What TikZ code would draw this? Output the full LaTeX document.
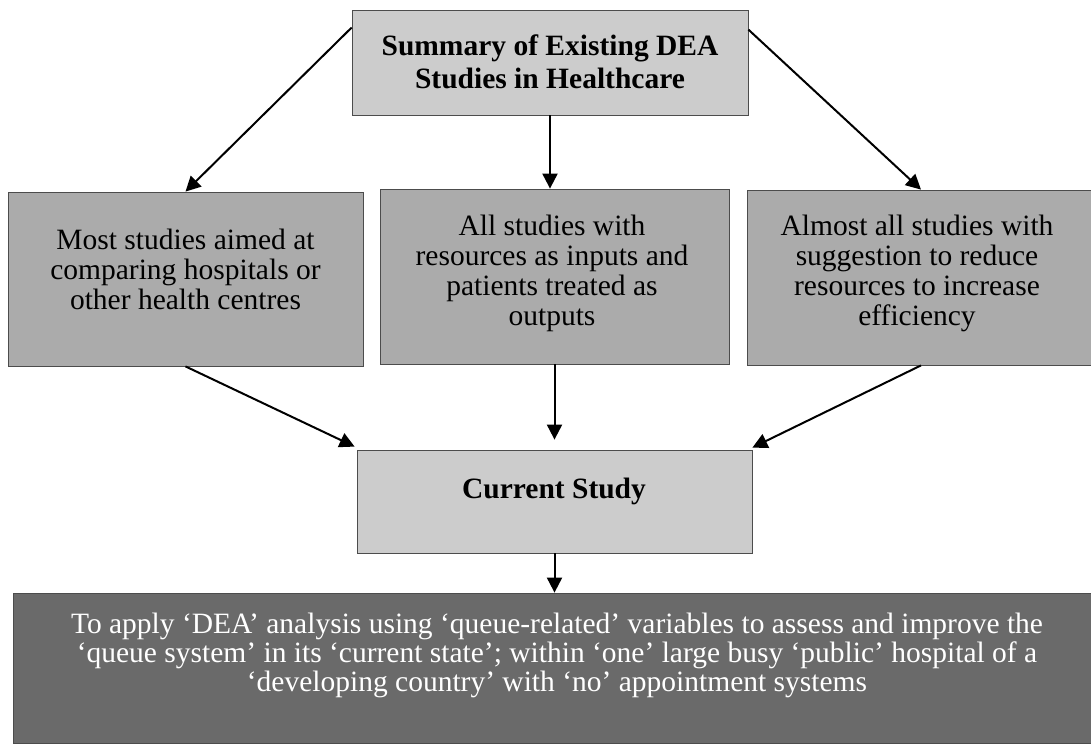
\documentclass[tikz,border=0pt]{standalone}
\usepackage{fontspec}
\setmainfont{Liberation Serif}
\usetikzlibrary{arrows.meta,calc}

\definecolor{lightbox}{HTML}{CCCCCC}
\definecolor{midbox}{HTML}{ABABAB}
\definecolor{darkbox}{HTML}{6A6A6A}

\tikzset{
  boxbase/.style={draw=black!70, line width=0.8pt, inner sep=0pt},
  headbox/.style={boxbase, fill=lightbox},
  findbox/.style={boxbase, fill=midbox},
  aimbox/.style={boxbase, fill=darkbox},
  boxtext/.style={align=center, font=\fontsize{29.5}{30}\selectfont, inner sep=0pt},
  flow/.style={line width=2pt, -{Triangle[length=15pt,width=15pt]}}
}

\begin{document}
\begin{tikzpicture}[x=1pt,y=-1pt]
\useasboundingbox (0,0) rectangle (1091,746);

% boxes
\node[headbox, minimum width=396pt, minimum height=105pt] (top) at (550,62.5) {};
\node[findbox, minimum width=355pt, minimum height=174pt] (left) at (185.5,279) {};
\node[findbox, minimum width=349pt, minimum height=175pt] (mid) at (554.5,276.5) {};
\node[findbox, minimum width=348pt, minimum height=175pt] (right) at (921,277.5) {};
\node[headbox, minimum width=395pt, minimum height=103pt] (current) at (554.5,501.5) {};
\node[aimbox, minimum width=1090pt, minimum height=150pt] (aim) at (558,668) {};

% box texts
\node[boxtext, font=\fontsize{29.5}{32.5}\selectfont\bfseries] (toptext) at (550,62) {Summary of Existing DEA\\Studies in Healthcare};
\node[boxtext] (lefttext) at (185.5,269) {Most studies aimed at\\comparing hospitals or\\other health centres};
\node[boxtext] (midtext) at (552,273) {All studies with\\resources as inputs and\\patients treated as\\outputs};
\node[boxtext] (righttext) at (917,273) {Almost all studies with\\suggestion to reduce\\resources to increase\\efficiency};
\node[boxtext, font=\fontsize{29.5}{30}\selectfont\bfseries] (currenttext) at (554,491) {Current Study};
\node[boxtext, font=\fontsize{29.5}{29}\selectfont, text=white] (aimtext) at (557,655) {To apply ‘DEA’ analysis using ‘queue-related’ variables to assess and improve the\\‘queue system’ in its ‘current state’; within ‘one’ large busy ‘public’ hospital of a\\‘developing country’ with ‘no’ appointment systems};

% connectors
\draw[flow] ($(top.north west)+(0,18)$) -- (left.north);
\draw[flow] (top.south) -- (top.south |- mid.north);
\draw[flow] ($(top.north east)+(0,20)$) -- (right.north);
\draw[flow] (left.south) -- ($(current.north west)+(-2,-3)$);
\draw[flow] (mid.south) -- ($(mid.south |- current.north)+(0,-10)$);
\draw[flow] (right.south) -- ($(current.north east)+(0,-2)$);
\draw[flow] (current.south) -- (current.south |- aim.north);
\end{tikzpicture}
\end{document}
